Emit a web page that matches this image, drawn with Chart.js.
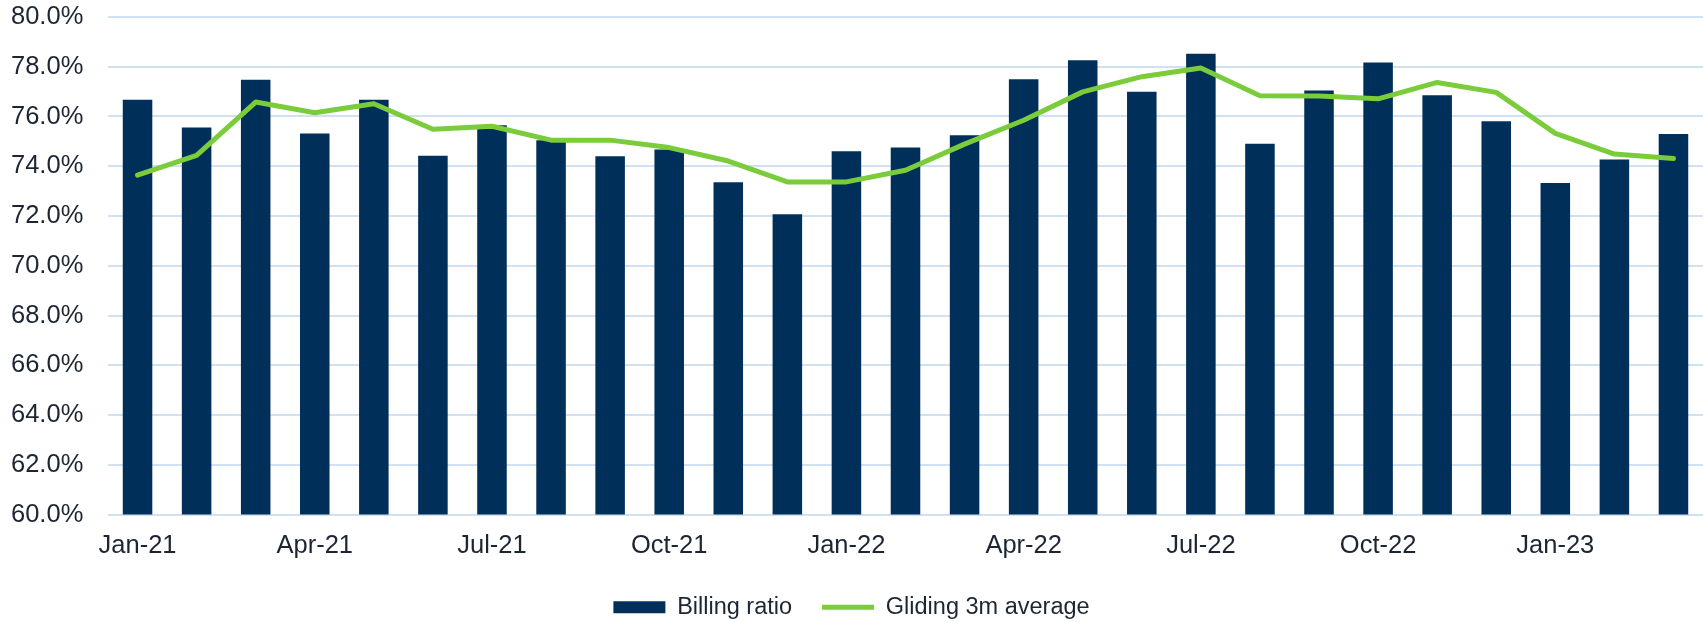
<!DOCTYPE html>
<html>
<head>
<meta charset="utf-8">
<script src="https://cdn.jsdelivr.net/npm/chart.js@4.4.0/dist/chart.umd.min.js"></script>
<style>
  html, body { margin: 0; padding: 0; background: #fff; }
  #wrap { width: 1703px; height: 622px; }
</style>
</head>
<body>
<div id="wrap"><canvas id="chart" width="1703" height="622"></canvas></div>
<script>
const months = ['Jan-21','Feb-21','Mar-21','Apr-21','May-21','Jun-21','Jul-21','Aug-21','Sep-21','Oct-21','Nov-21','Dec-21',
  'Jan-22','Feb-22','Mar-22','Apr-22','May-22','Jun-22','Jul-22','Aug-22','Sep-22','Oct-22','Nov-22','Dec-22',
  'Jan-23','Feb-23','Mar-23'];
const billingRatio = [76.67, 75.56, 77.48, 75.32, 76.67, 74.42, 75.65, 75.05, 74.40, 74.67, 73.36, 72.07,
  74.60, 74.75, 75.25, 77.50, 78.26, 76.99, 78.52, 74.90, 77.05, 78.17, 76.85, 75.81, 73.33, 74.27, 75.30];
const gliding3m = [73.64, 74.44, 76.58, 76.15, 76.51, 75.49, 75.61, 75.05, 75.05, 74.75, 74.21, 73.37,
  73.37, 73.84, 74.89, 75.85, 76.99, 77.60, 77.95, 76.83, 76.82, 76.71, 77.37, 76.97, 75.32, 74.49, 74.31];
const yTicks = [60, 62, 64, 66, 68, 70, 72, 74, 76, 78, 80];

const navy = '#00305a';
const green = '#7acc3a';
const textColor = '#1c2633';

Chart.defaults.font.family = 'Arial, "Liberation Sans", sans-serif';
Chart.defaults.color = textColor;

// legend is centred on the whole canvas width, not on the padded area
const legendShift = {
  id: 'legendShift',
  afterLayout(chart) {
    if (chart.legend) chart.legend.left -= 11;
  }
};

new Chart(document.getElementById('chart'), {
  type: 'bar',
  data: {
    labels: months,
    datasets: [
      {
        type: 'bar',
        label: 'Billing ratio',
        data: billingRatio,
        backgroundColor: navy,
        borderWidth: 0,
        categoryPercentage: 1,
        barPercentage: 0.5,
        order: 1
      },
      {
        type: 'line',
        label: 'Gliding 3m average',
        data: gliding3m,
        borderColor: green,
        backgroundColor: green,
        borderWidth: 5,
        pointRadius: 0,
        tension: 0,
        borderCapStyle: 'round',
        borderJoinStyle: 'round',
        pointStyle: 'line',
        order: 0
      }
    ]
  },
  plugins: [legendShift],
  options: {
    responsive: false,
    animation: false,
    layout: { padding: { top: 17, left: 11, right: 0, bottom: -7 } },
    plugins: {
      tooltip: { enabled: false },
      legend: {
        position: 'bottom',
        labels: {
          usePointStyle: true,
          pointStyleWidth: 52,
          boxHeight: 12,
          padding: 30,
          color: textColor,
          font: { size: 23.5 },
          sort: (a, b) => a.datasetIndex - b.datasetIndex,
          generateLabels: (chart) => {
            const items = Chart.defaults.plugins.legend.labels.generateLabels(chart);
            items.forEach(it => {
              it.pointStyle = it.datasetIndex === 0 ? 'rect' : 'line';
            });
            return items;
          }
        }
      }
    },
    scales: {
      x: {
        offset: true,
        grid: { display: false, drawTicks: false },
        border: { display: false },
        ticks: {
          autoSkip: false,
          maxRotation: 0,
          padding: 16,
          color: textColor,
          font: { size: 25.5 },
          callback: function (v, i) { return i % 3 === 0 ? months[i] : ''; }
        },
        afterFit: (s) => { s.height = 51; }
      },
      y: {
        min: 60,
        max: 80,
        afterBuildTicks: (s) => { s.ticks = yTicks.map(v => ({ value: v })); },
        grid: { color: '#d0e1f1', lineWidth: 2, drawTicks: false },
        border: { display: false },
        ticks: {
          padding: 0,
          crossAlign: 'far',
          color: textColor,
          font: { size: 25.5 },
          callback: (v) => v.toFixed(1) + '%'
        },
        afterFit: (s) => { s.width = 97; }
      }
    }
  }
});
</script>
</body>
</html>
